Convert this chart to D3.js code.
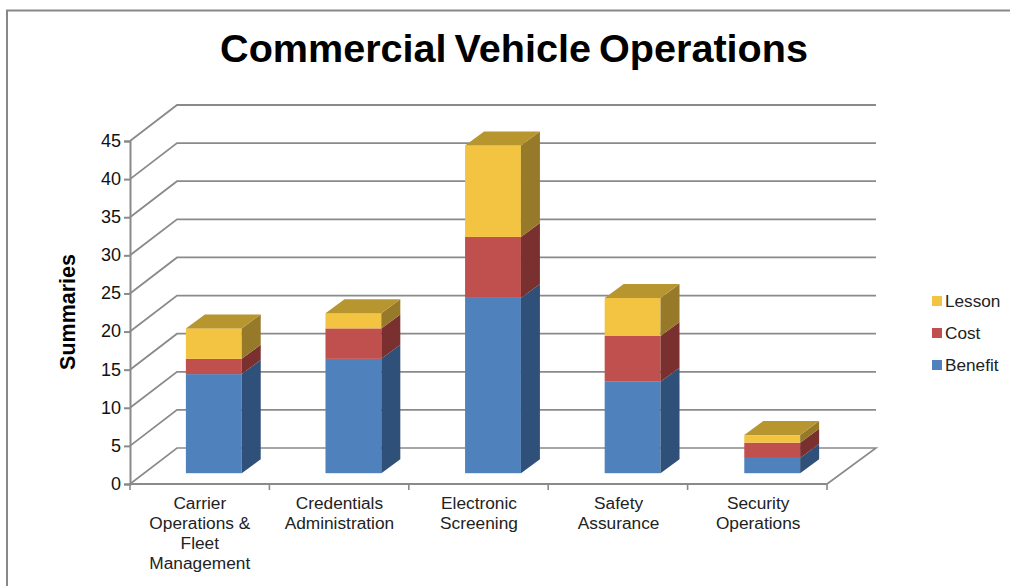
<!DOCTYPE html>
<html><head><meta charset="utf-8">
<script src="https://cdn.jsdelivr.net/npm/d3@7"></script>
<style>html,body{margin:0;padding:0;background:#fff}svg{display:block}text{font-family:"Liberation Sans",Arial,sans-serif}</style>
</head><body><div id="c"></div>
<script>
const categories=[["Carrier","Operations &","Fleet","Management"],["Credentials","Administration"],["Electronic","Screening"],["Safety","Assurance"],["Security","Operations"]];
const categoryKeys=["Carrier Operations & Fleet Management","Credentials Administration","Electronic Screening","Safety Assurance","Security Operations"];
const benefit=[13,15,23,12,2];
const cost=[2,4,8,6,2];
const lesson=[4,2,12,5,1];
const seriesNames=["Benefit","Cost","Lesson"];
const yTicks=[0,5,10,15,20,25,30,35,40,45];
const title="Commercial Vehicle Operations";
const yTitle="Summaries";

const W=1010,H=586;
const svg=d3.select("#c").append("svg").attr("width",W).attr("height",H);
const grid="#8a8a8a";
const colors={Benefit:{front:"#4f81bd",side:"#2f5079",top:"#3f6797"},Cost:{front:"#c0504d",side:"#7a302e",top:"#9a403e"},Lesson:{front:"#f3c441",side:"#967a2a",top:"#b8962f"}};

// frame
svg.append("path").attr("d",`M7,${H}V10.5H${W}`).attr("fill","none").attr("stroke","#888").attr("stroke-width",2);

const x=d3.scaleBand().domain(categoryKeys).range([130,828]).paddingInner(0.6).paddingOuter(0.3);
const y=d3.scaleLinear().domain([0,45]).range([484,141]);
const wall={dx:47,dy:-36}, inset={dx:14,dy:-10.8}, depth={dx:19,dy:-14};

// walls and floor
const g=svg.append("g").attr("fill","none").attr("stroke",grid).attr("stroke-width",2);
yTicks.forEach(t=>{
  if(t===0)return;
  g.append("path").attr("d",`M130,${y(t)}L${130+wall.dx},${y(t)+wall.dy}H876`).attr("stroke-width",1.8);
});
g.append("path").attr("d",`M130,${y(0)}L${130+wall.dx},${y(0)+wall.dy}H876L827,${y(0)}`).attr("stroke-width",1.6);

// bars
const table=categoryKeys.map((k,i)=>({key:k,Benefit:benefit[i],Cost:cost[i],Lesson:lesson[i]}));
const stacked=d3.stack().keys(seriesNames)(table);
const bars=svg.append("g");
stacked.forEach((s,si)=>{
  const c=colors[s.key];
  s.forEach(d=>{
    const x0=x(d.data.key)+inset.dx, x1=x0+x.bandwidth();
    const yb=y(d[0])+inset.dy, yt=y(d[1])+inset.dy;
    bars.append("rect").attr("x",x0).attr("y",yt).attr("width",x1-x0).attr("height",yb-yt).attr("fill",c.front);
    bars.append("polygon").attr("points",[[x1,yb],[x1+depth.dx,yb+depth.dy],[x1+depth.dx,yt+depth.dy],[x1,yt]].join(" ")).attr("fill",c.side);
    if(si===seriesNames.length-1){
      bars.append("polygon").attr("points",[[x0,yt],[x0+depth.dx,yt+depth.dy],[x1+depth.dx,yt+depth.dy],[x1,yt]].join(" ")).attr("fill",c.top);
    }
  });
});

// axes
const yAxis=d3.axisLeft(y).tickValues(yTicks).tickSize(6).tickPadding(3);
const ya=svg.append("g").attr("transform","translate(130,0)").call(yAxis);
ya.select(".domain").attr("stroke",grid).attr("stroke-width",2);
ya.selectAll(".tick line").attr("stroke",grid).attr("stroke-width",2);
ya.selectAll(".tick text").attr("font-size",18).attr("font-family",'"Liberation Sans",Arial,sans-serif').attr("fill","#111").attr("dy","0.3em");

const xAxisScale=d3.scalePoint().domain(d3.range(6)).range([130,827]);
const xa=svg.append("g").attr("transform","translate(0,484)");
xa.append("line").attr("x1",129).attr("x2",827).attr("stroke",grid).attr("stroke-width",2);
xAxisScale.domain().forEach(i=>xa.append("line").attr("x1",xAxisScale(i)).attr("x2",xAxisScale(i)).attr("y2",6).attr("stroke",grid).attr("stroke-width",1.6));

categoryKeys.forEach((k,i)=>{
  const cx=x(k)+x.bandwidth()/2;
  categories[i].forEach((ln,j)=>{
    svg.append("text").attr("x",cx).attr("y",509+j*20).attr("text-anchor","middle").attr("font-size",17.3).attr("fill","#222").text(ln);
  });
});

// title
svg.append("text").attr("x",514).attr("y",62).attr("text-anchor","middle").attr("font-size",39.6).attr("font-weight","bold").attr("word-spacing",-3).attr("fill","#000").text(title);
svg.append("text").attr("transform","translate(75,312) rotate(-90)").attr("text-anchor","middle").attr("font-size",21.5).attr("font-weight","bold").attr("fill","#000").text(yTitle);

// legend
const legendOrder=seriesNames.slice().reverse();
const ly=d3.scalePoint().domain(legendOrder).range([301,365]);
legendOrder.forEach(n=>{
  svg.append("rect").attr("x",932).attr("y",ly(n)-5).attr("width",10).attr("height",10).attr("fill",colors[n].front);
  svg.append("text").attr("x",945).attr("y",ly(n)+6).attr("font-size",17.2).attr("fill","#222").text(n);
});
</script></body></html>
